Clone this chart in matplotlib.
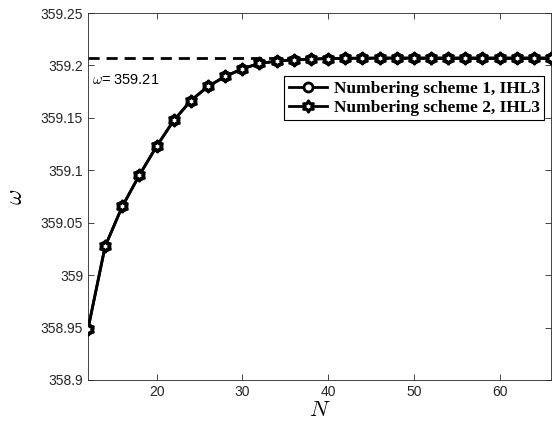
import numpy as np
import matplotlib.pyplot as plt
from matplotlib.path import Path

# data
n_vals = [12, 14, 16, 18, 20, 22, 24, 26, 28, 30, 32, 34, 36, 38, 40, 42, 44, 46,
          48, 50, 52, 54, 56, 58, 60, 62, 64, 66]
omega_1 = [358.9485, 359.0275, 359.0655, 359.0955, 359.1228, 359.1475, 359.1665,
           359.1800, 359.1895, 359.1968, 359.2020, 359.2040, 359.2054, 359.2060,
           359.2066, 359.2068, 359.2069, 359.2070, 359.2070, 359.2070, 359.2070,
           359.2070, 359.2070, 359.2070, 359.2070, 359.2070, 359.2070, 359.2070]
omega_2 = list(omega_1)
omega_ref = 359.2075
y_ticks = [358.9, 358.95, 359, 359.05, 359.1, 359.15, 359.2, 359.25]
y_tick_labels = ['358.9', '358.95', '359', '359.05', '359.1', '359.15', '359.2', '359.25']
x_ticks = [20, 30, 40, 50, 60]

# hexagram marker (6 pointed star, as in MATLAB)
ang = np.pi / 2 + np.arange(12) * np.pi / 6
rad = np.where(np.arange(12) % 2 == 0, 1.0, 0.58)
verts = np.column_stack([rad * np.cos(ang), rad * np.sin(ang)])
verts = np.vstack([verts, verts[:1]])
hexagram = Path(verts, [Path.MOVETO] + [Path.LINETO] * 11 + [Path.CLOSEPOLY])

plt.rcParams['font.family'] = 'Liberation Sans'
plt.rcParams['mathtext.fontset'] = 'cm'

fig = plt.figure(figsize=(5.59, 4.32), dpi=100)
ax = fig.add_axes([0.1574, 0.1204, 0.8283, 0.8495])

ax.axhline(omega_ref, color='black', linestyle=(0, (4, 2.5)), linewidth=2, zorder=1)
ax.plot(n_vals, omega_1, color='black', linewidth=2, marker='o', markersize=6.5,
        markerfacecolor='white', markeredgewidth=2, label='Numbering scheme 1, IHL3', zorder=3)
ax.plot(n_vals, omega_2, color='black', linewidth=2, marker=hexagram, markersize=8,
        markerfacecolor='white', markeredgewidth=2.2, label='Numbering scheme 2, IHL3', zorder=4)

ax.text(12.5, 359.186, r'$\omega$= 359.21', fontsize=10.5, va='center', ha='left')

ax.set_xlim(12, 66)
ax.set_ylim(358.9, 359.25)
ax.set_xticks(x_ticks)
ax.set_yticks(y_ticks)
ax.set_yticklabels(y_tick_labels)
ax.tick_params(direction='in', top=True, right=True, labelsize=10, colors='#262626',
               length=4, width=0.6)
for s in ax.spines.values():
    s.set_color('#262626')
    s.set_linewidth(0.6)

ax.set_xlabel(r'$N$', fontsize=16, labelpad=1)
ax.set_ylabel(r'$\omega$', fontsize=17, labelpad=10)

leg = ax.legend(loc='upper right', bbox_to_anchor=(0.985, 0.827), fancybox=False,
                edgecolor='black', framealpha=1, borderpad=0.25, handlelength=2.2,
                handletextpad=0.4, labelspacing=0.15, borderaxespad=0,
                prop={'family': 'Liberation Serif', 'weight': 'bold', 'size': 12.5})
leg.get_frame().set_linewidth(0.8)

fig.savefig('out.png', dpi=100)
